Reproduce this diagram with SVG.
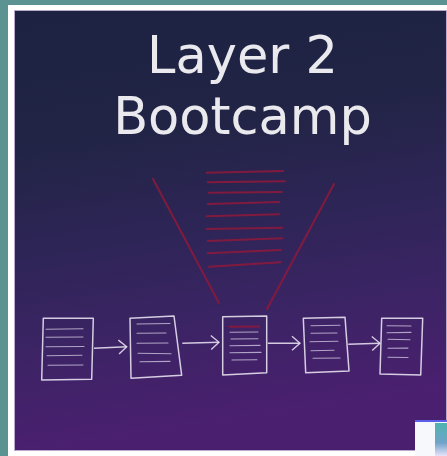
<svg xmlns="http://www.w3.org/2000/svg" width="447" height="456" viewBox="0 0 447 456">
  <defs>
    <linearGradient id="bg" x1="0" y1="0" x2="0.15" y2="1">
      <stop offset="0" stop-color="#1d2242"/>
      <stop offset="0.3" stop-color="#212445"/>
      <stop offset="0.55" stop-color="#2e2557"/>
      <stop offset="0.75" stop-color="#3b2464"/>
      <stop offset="1" stop-color="#4b1f70"/>
    </linearGradient>
    <linearGradient id="tile" x1="0" y1="0" x2="0" y2="1">
      <stop offset="0" stop-color="#4fb3b0"/>
      <stop offset="0.6" stop-color="#6fa3c8"/>
      <stop offset="1" stop-color="#e9e2fb"/>
    </linearGradient>
    <marker id="chev" viewBox="0 0 10 16" refX="9" refY="8" markerWidth="10" markerHeight="16" markerUnits="userSpaceOnUse" orient="auto">
      <path d="M1,1 L9,8 L1,15" fill="none" stroke="#e4deee" stroke-width="1.4" stroke-opacity="0.9"/>
    </marker>
    <style>
      .doc { fill: none; stroke: #e6e0f0; stroke-width: 1.5; stroke-opacity: 0.9; stroke-linejoin: round; }
      .ln { fill: none; stroke: #d8d0e6; stroke-width: 1.1; stroke-opacity: 0.75; stroke-linecap: round; }
      .red { fill: none; stroke: #8a1a3c; stroke-width: 2; stroke-linecap: round; stroke-opacity: 0.9; }
      .conn { fill: none; stroke: #e4deee; stroke-width: 1.4; stroke-opacity: 0.9; }
      .title { font-family: "DejaVu Sans", Verdana, sans-serif; font-size: 51px; fill: #e9e9ee; text-anchor: middle; }
    </style>
  </defs>

  <!-- frame -->
  <rect x="0" y="0" width="447" height="456" fill="#5a9391"/>
  <rect x="8" y="5" width="439" height="451" fill="#ffffff"/>
  <rect x="14.5" y="10.5" width="432" height="440" fill="url(#bg)" stroke="#b9a9cf" stroke-width="1"/>

  <!-- title -->
  <text class="title" x="242.5" y="72.5">Layer 2</text>
  <text class="title" x="242.5" y="134">Bootcamp</text>

  <!-- red funnel -->
  <g id="funnel">
    <path class="red" d="M153,179 L219,303"/>
    <path class="red" d="M334,184 L267,309"/>
    <path class="red" d="M206.7,172.7 L283.3,171"/>
    <path class="red" d="M207.7,182.3 L285,181.3"/>
    <path class="red" d="M208.7,192.7 L281.7,192"/>
    <path class="red" d="M207.7,204 L279,202"/>
    <path class="red" d="M206.7,216.3 L279,214.3"/>
    <path class="red" d="M206.7,229 L282.3,227.7"/>
    <path class="red" d="M207.7,241 L282.3,238.3"/>
    <path class="red" d="M207.7,253.3 L280.7,250"/>
    <path class="red" d="M209,266.7 L280.7,262.3"/>
  </g>

  <!-- blocks -->
  <g id="block1">
    <path class="doc" d="M43.3,318.3 L93.3,318.3 L91.7,379.3 L41.7,380 Z"/>
    <path class="ln" d="M46,329.3 L83,328.8 M46,337.3 L83,337 M46,346.7 L84,346.5 M47,355.7 L82,355.3 M48,365.3 L83,365"/>
  </g>
  <g id="block2">
    <path class="doc" d="M130,318.3 L174,316 L181.7,375.3 L131,378.3 Z"/>
    <path class="ln" d="M137,324 L170,323.5 M137,333.3 L166,333 M137,343.3 L168,343 M138,353.3 L171,353.8 M140,361.7 L170,361.4"/>
  </g>
  <g id="block3">
    <path class="doc" d="M222.7,316.7 L266.7,316 L266.7,372.7 L222.7,375 Z"/>
    <path class="red" d="M229.3,326.7 L259.3,326.4"/>
    <path class="ln" d="M230,332.3 L258,332 M231,339 L258,338.7 M230,345.7 L260,345.4 M230,352.7 L261,352.4 M232,360 L257,359.7"/>
  </g>
  <g id="block4">
    <path class="doc" d="M303.3,318.3 L345,317.3 L349,371 L305.7,372.7 Z"/>
    <path class="ln" d="M311,325.7 L340,325.3 M311,333.3 L337,333 M310,341.7 L338,341.3 M311,350.7 L334,350.3 M313,358.3 L340,358"/>
  </g>
  <g id="block5">
    <path class="doc" d="M381.7,318.3 L422.7,318.3 L420.7,375 L380,374 Z"/>
    <path class="ln" d="M387,325.7 L411,326 M387,332.7 L411,332.4 M388,339.3 L410,339.8 M388,348.3 L408,348.1 M388,357.3 L408,357.5"/>
  </g>

  <!-- connectors -->
  <g id="connectors">
    <path class="conn" marker-end="url(#chev)" d="M94,348.3 L126.7,346.7"/>
    <path class="conn" marker-end="url(#chev)" d="M182.3,343.3 L219,342.3"/>
    <path class="conn" marker-end="url(#chev)" d="M267.7,343.3 L300,343.3"/>
    <path class="conn" marker-end="url(#chev)" d="M348.3,344.3 L380,343.3"/>
  </g>

  <!-- corner overlay -->
  <rect x="415" y="420" width="32" height="36" fill="#f7f8fb"/>
  <rect x="415" y="420" width="32" height="2" fill="#5b5fe8"/>
  <rect x="435" y="423" width="12" height="33" fill="url(#tile)"/>
</svg>
